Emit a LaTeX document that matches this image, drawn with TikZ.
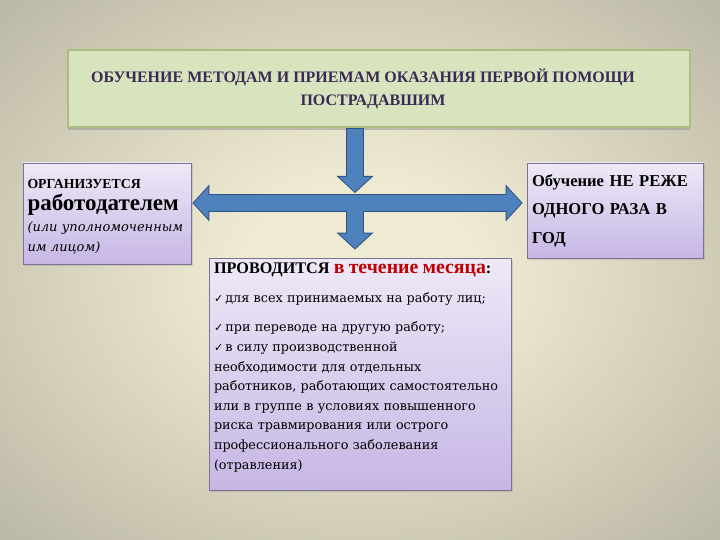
\documentclass[tikz,border=0pt]{standalone}
\usepackage{fontspec}
\setmainfont{Liberation Serif}
\newfontfamily\listfont{DejaVu Serif}
\newfontfamily\checkfont{DejaVu Sans}
\usetikzlibrary{arrows.meta,positioning,calc,shadows}

\definecolor{bgcenter}{HTML}{EFEBD3}
\definecolor{bgedge}{HTML}{8C897C}
\definecolor{titlefill}{HTML}{D7E4BD}
\definecolor{titleedge}{HTML}{A9BE80}
\definecolor{titleink}{HTML}{3C2A56}
\definecolor{lilactop}{HTML}{EEE9F7}
\definecolor{lilacbot}{HTML}{C6B6E5}
\definecolor{lilacedge}{HTML}{7E7196}
\definecolor{arrowblue}{HTML}{4F81BD}
\definecolor{arrowline}{HTML}{2F5283}
\definecolor{deadline}{HTML}{C00000}

\pgfdeclareradialshading{slidebg}{\pgfpoint{0bp}{0bp}}{color(0bp)=(bgcenter); color(8bp)=(bgcenter); color(60bp)=(bgedge)}

\newcommand{\chk}{{\checkfont\fontsize{11}{10}\selectfont ✓}\,}

\begin{document}
\begin{tikzpicture}[
    x=1pt, y=-1pt,
    titlebox/.style={draw=titleedge, line width=1.5pt, fill=titlefill, align=center,
                     minimum width=622pt, minimum height=77pt, text=titleink,
                     font=\bfseries\fontsize{16}{23}\selectfont,
                     drop shadow={shadow xshift=0pt, shadow yshift=-3pt, opacity=.4}},
    lilacbox/.style={draw=lilacedge, line width=.8pt, top color=lilactop, bottom color=lilacbot,
                     align=left, inner xsep=5pt, inner ysep=4pt,
                     drop shadow={shadow xshift=1.5pt, shadow yshift=-1.5pt, opacity=.25}},
    blockout/.style={draw=arrowline, line width=18pt},
    blockin/.style={draw=arrowblue, line width=16pt},
    outtip/.tip={Triangle[length=17pt, width=37pt, line width=0pt]},
    intip/.tip={Triangle[length=14.6pt, width=31.8pt, line width=0pt]},
  ]
    \useasboundingbox (0,0) rectangle (720,540);
    \shade[shading=slidebg] (0,0) rectangle (720,540);

    % ---- heading ----
    \node[titlebox] (title) at (379,88.5)
        {\hspace*{-32pt}ОБУЧЕНИЕ МЕТОДАМ И ПРИЕМАМ ОКАЗАНИЯ ПЕРВОЙ ПОМОЩИ\\
         \hspace*{-12pt}ПОСТРАДАВШИМ};

    % ---- three boxes ----
    \node[lilacbox, text width=159pt, minimum height=101pt, inner xsep=4.5pt,
          font=\fontsize{13}{20}\selectfont] (organizer) at (107,213.5)
        {{\bfseries\fontsize{13.8}{20}\selectfont\rule{0pt}{16pt}ОРГАНИЗУЕТСЯ}\\[2pt]
         {\bfseries\fontsize{23}{20}\selectfont работодателем}\\[1pt]
         {\listfont\itshape\fontsize{13}{20}\selectfont (или уполномоченным\\им лицом)}};
    \node[lilacbox, text width=166pt, minimum height=95pt,
          font=\bfseries\fontsize{16.6}{28.5}\selectfont] (frequency) at (615,210.5)
        {Обучение НЕ РЕЖЕ\\ОДНОГО РАЗА В\\ГОД};
    \node[lilacbox, text width=292pt, minimum height=232pt,
          font=\listfont\fontsize{12.8}{19.6}\selectfont] (program) at (360,374)
        {{\rmfamily\bfseries\fontsize{16.2}{19.6}\selectfont ПРОВОДИТСЯ
           \textcolor{deadline}{\fontsize{19.8}{19.6}\selectfont в течение месяца}:}\\[9pt]
         \chk для всех принимаемых на работу лиц;\\[10pt]
         \chk при переводе на другую работу;\\
         \chk в силу производственной\\
         необходимости для отдельных\\
         работников, работающих самостоятельно\\
         или в группе в условиях повышенного\\
         риска травмирования или острого\\
         профессионального заболевания\\
         (отравления)\rule[-16pt]{0pt}{16pt}};

    % ---- block arrows ----
    \coordinate (hub) at (355,203);
    \draw[blockout, outtip-outtip, shorten <=1pt, shorten >=4pt]
        (hub -| organizer.east) -- (hub -| frequency.west);
    \draw[blockout, -outtip, shorten >=8pt] (hub) -- (hub |- program.north);
    \draw[blockin, intip-intip, shorten <=2.4pt, shorten >=5.4pt]
        (hub -| organizer.east) -- (hub -| frequency.west);
    \draw[blockin, -intip, shorten >=9.4pt] (hub) -- (hub |- program.north);

    \draw[blockout, -outtip, shorten >=10pt] (hub |- title.south) -- (hub);
    \draw[blockin, -intip, shorten <=1pt, shorten >=11.4pt] (hub |- title.south) -- (hub);
  \end{tikzpicture}
\end{document}
